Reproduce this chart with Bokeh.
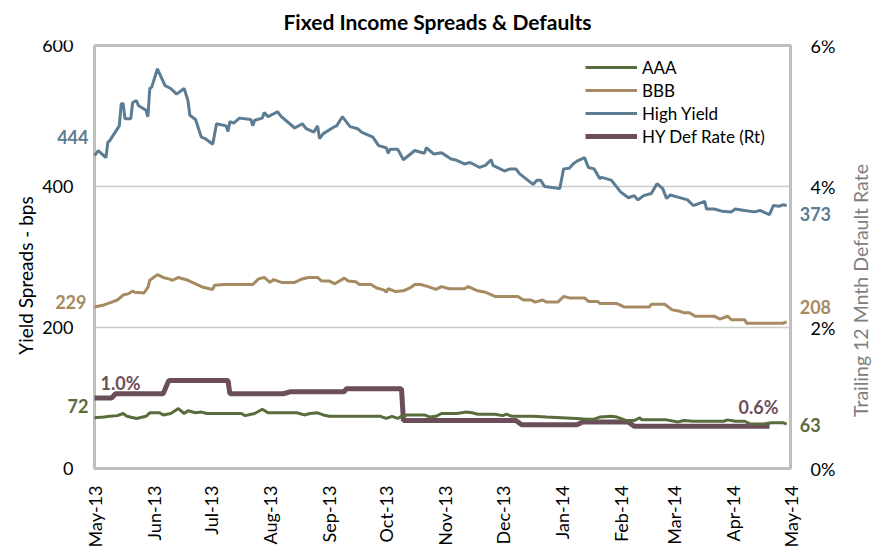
from math import pi
from bokeh.plotting import figure
from bokeh.models import (Range1d, LinearAxis, FixedTicker, PrintfTickFormatter,
                          Label, Legend, LegendItem)
from bokeh.embed import file_html
from bokeh.resources import INLINE

FONT = "Lato"

# ---------------- data (days since 1 May 2013) ----------------
month_days = [0, 31, 61, 92, 123, 153, 184, 214, 245, 276, 304, 335, 365]
month_labels = ["May-13", "Jun-13", "Jul-13", "Aug-13", "Sep-13", "Oct-13", "Nov-13",
                "Dec-13", "Jan-14", "Feb-14", "Mar-14", "Apr-14", "May-14"]

hy_days = [0, 2, 6, 7, 8, 13, 14, 15, 16, 19, 20, 22, 23, 27, 28, 29, 30, 33, 37, 40, 43, 47,
           49, 50, 53, 56, 58, 62, 64, 69, 70, 71, 73, 76, 82, 83, 84, 88, 89, 91, 96, 98, 105,
           109, 111, 115, 117, 118, 120, 126, 127, 130, 134, 138, 140, 146, 149, 153, 154, 155,
           159, 162, 168, 173, 174, 178, 182, 187, 189, 194, 197, 202, 205, 208, 209, 215, 218,
           221, 223, 230, 232, 234, 236, 239, 244, 246, 249, 251, 253, 257, 259, 262, 265, 266,
           271, 276, 280, 283, 285, 288, 292, 295, 298, 300, 302, 306, 311, 314, 320, 321, 325,
           329, 334, 336, 341, 346, 349, 354, 356, 359, 361, 363]
hy_vals = [444, 451, 441, 463, 465, 486, 517, 518, 496, 496, 519, 522, 515, 508, 499, 539, 541,
           567, 543, 539, 531, 539, 522, 501, 495, 470, 468, 460, 489, 486, 478, 492, 490, 497,
           495, 486, 494, 497, 505, 499, 506, 499, 483, 489, 482, 477, 486, 468, 475, 485, 486,
           499, 485, 482, 477, 470, 458, 455, 447, 453, 453, 438, 451, 447, 455, 446, 448, 439,
           438, 432, 434, 427, 430, 438, 430, 422, 425, 425, 418, 403, 409, 409, 400, 399, 397,
           425, 426, 432, 436, 441, 427, 425, 411, 413, 409, 392, 384, 387, 381, 387, 390, 404,
           397, 383, 388, 385, 381, 373, 379, 368, 368, 365, 364, 368, 366, 364, 366, 360, 373,
           372, 374, 373]

bbb_days = [0, 5, 9, 12, 15, 18, 20, 21, 26, 28, 29, 33, 36, 39, 41, 44, 49, 53, 57, 62, 63, 68,
            83, 86, 89, 92, 94, 98, 105, 108, 112, 117, 119, 123, 126, 131, 133, 137, 139, 145,
            148, 152, 153, 154, 158, 162, 166, 168, 171, 175, 179, 182, 186, 194, 196, 201, 205,
            210, 222, 225, 229, 231, 235, 237, 243, 246, 249, 257, 259, 264, 265, 274, 278, 291,
            292, 299, 303, 307, 309, 312, 315, 325, 328, 332, 334, 341, 342, 361, 363]
bbb_vals = [229, 232, 236, 239, 246, 248, 252, 250, 249, 257, 267, 275, 271, 269, 267, 271, 267,
            262, 257, 254, 260, 261, 261, 269, 271, 264, 268, 264, 264, 268, 271, 271, 266, 266,
            262, 270, 266, 265, 261, 261, 256, 253, 250, 255, 251, 252, 257, 261, 261, 258, 254,
            258, 255, 255, 258, 252, 250, 244, 244, 239, 239, 236, 239, 236, 236, 244, 242, 242,
            237, 237, 234, 234, 229, 229, 233, 233, 225, 223, 221, 221, 216, 216, 212, 216, 211,
            211, 206, 206, 208]

aaa_days = [0, 5, 8, 12, 15, 17, 22, 27, 29, 34, 36, 40, 44, 47, 49, 53, 56, 59, 77, 79, 84, 88,
            91, 106, 110, 113, 117, 120, 123, 150, 153, 156, 159, 161, 164, 173, 176, 179, 182,
            190, 195, 198, 201, 210, 214, 216, 219, 230, 237, 253, 258, 262, 265, 271, 274, 279,
            283, 286, 287, 300, 306, 309, 314, 330, 332, 336, 341, 344, 351, 355, 361, 363]
aaa_vals = [72, 73, 74, 75, 78, 74, 71, 74, 79, 79, 76, 78, 85, 78, 82, 79, 80, 78, 78, 75, 78,
            84, 79, 79, 76, 78, 79, 76, 74, 74, 71, 74, 71, 74, 76, 76, 73, 74, 78, 78, 80, 79,
            77, 77, 75, 77, 74, 74, 73, 71, 70, 70, 73, 74, 73, 68, 68, 72, 69, 69, 66, 68, 67,
            67, 69, 67, 67, 63, 63, 65, 65, 63]

def_days = [0, 9, 11, 36, 39, 70, 71, 99, 103, 131, 132, 161, 162, 221, 224, 253, 256, 280,
            283, 354]
def_vals = [1.0, 1.0, 1.06, 1.06, 1.25, 1.25, 1.06, 1.06, 1.09, 1.09, 1.13, 1.13, 0.68, 0.68,
            0.62, 0.62, 0.66, 0.66, 0.60, 0.60]

left_ticks = [0, 200, 400, 600]
right_ticks = [0, 2, 4, 6]

C_AAA = "#5a6b3c"
C_BBB = "#a68a62"
C_HY = "#5b7c93"
C_DEF = "#6b4e59"
C_FRAME = "#bfbfbf"

# ---------------- layout (pixels) ----------------
W, H = 892, 554
TOP = 40                          # height of the title band above the frame
BOX_L, BOX_R, BOX_T, BOX_B = 94, 790, 45, 468   # visible plot box

xs = (BOX_R - BOX_L) / (month_days[-1] - month_days[0])
ys = (BOX_B - BOX_T) / (left_ticks[-1] - left_ticks[0])
rs = (BOX_B - BOX_T) / (right_ticks[-1] - right_ticks[0])
x_rng = Range1d(month_days[0] - BOX_L / xs, month_days[-1] + (W - BOX_R) / xs)
y_rng = Range1d(left_ticks[0] - (H - BOX_B) / ys, left_ticks[-1] + (BOX_T - TOP) / ys)
r_rng = Range1d(right_ticks[0] - (H - BOX_B) / rs, right_ticks[-1] + (BOX_T - TOP) / rs)

p = figure(width=W, height=H, output_backend="svg", toolbar_location=None,
           x_range=x_rng, y_range=y_rng,
           min_border_left=0, min_border_right=0, min_border_top=TOP, min_border_bottom=0,
           title="Fixed Income Spreads & Defaults")
p.title.align = "left"
p.title.offset = 283
p.title.text_font = FONT
p.title.text_font_size = "21px"
p.title.text_font_style = "bold"
p.title.text_color = "#000000"
p.title.standoff = 13

p.outline_line_color = None
p.background_fill_color = "white"
p.border_fill_color = "white"
p.xgrid.grid_line_color = None
p.ygrid.grid_line_color = None

p.extra_y_ranges = {"def": r_rng}

# x axis (pinned to the bottom of the box)
xa = p.xaxis[0]
xa.fixed_location = left_ticks[0]
xa.ticker = FixedTicker(ticks=month_days)
xa.major_label_overrides = {d: l for d, l in zip(month_days, month_labels)}
xa.major_label_orientation = pi / 2
xa.major_label_standoff = 17

# left axis (pinned to the left side of the box)
ya = p.yaxis[0]
ya.fixed_location = month_days[0]
ya.ticker = FixedTicker(ticks=left_ticks)
ya.major_label_standoff = 21

# right axis (default rate, pinned to the right side of the box)
ra = LinearAxis(y_range_name="def", ticker=FixedTicker(ticks=right_ticks),
                formatter=PrintfTickFormatter(format="%d%%"),
                fixed_location=month_days[-1])
ra.major_label_standoff = 20
p.add_layout(ra, "right")

for ax in (xa, ya, ra):
    ax.axis_line_color = None
    ax.major_tick_line_color = None
    ax.minor_tick_line_color = None
    ax.major_tick_out = 0
    ax.major_tick_in = 0
    ax.minor_tick_out = 0
    ax.minor_tick_in = 0
    ax.major_label_text_font = FONT
    ax.major_label_text_font_size = "18px"
    ax.major_label_text_color = "#000000"

# gridlines and box
grid_vals = left_ticks[1:-1]
p.segment(x0=[month_days[0]] * len(grid_vals), x1=[month_days[-1]] * len(grid_vals),
          y0=grid_vals, y1=grid_vals, line_color="#cccccc", line_width=1.5)
p.quad(left=[month_days[0]], right=[month_days[-1]], bottom=[left_ticks[0]],
       top=[left_ticks[-1]], fill_color=None, line_color=C_FRAME, line_width=3)

# ---------------- lines ----------------
r_def = p.line(def_days, def_vals, y_range_name="def", line_color=C_DEF, line_width=5)
r_aaa = p.line(aaa_days, aaa_vals, line_color=C_AAA, line_width=3)
r_bbb = p.line(bbb_days, bbb_vals, line_color=C_BBB, line_width=3)
r_hy = p.line(hy_days, hy_vals, line_color=C_HY, line_width=3)

legend = Legend(items=[LegendItem(label="AAA", renderers=[r_aaa]),
                       LegendItem(label="BBB", renderers=[r_bbb]),
                       LegendItem(label="High Yield", renderers=[r_hy]),
                       LegendItem(label="HY Def Rate (Rt)", renderers=[r_def])],
                location=(585, 407))
legend.background_fill_alpha = 0
legend.border_line_color = None
legend.padding = 0
legend.margin = 0
legend.spacing = 1
legend.glyph_height = 22
legend.label_height = 22
legend.glyph_width = 52
legend.label_standoff = 5
legend.label_text_font = FONT
legend.label_text_font_size = "17px"
legend.label_text_color = "#000000"
p.add_layout(legend)

# ---------------- data labels ----------------
def dlabel(x, y, text, color, align, xo, yo, rng="default"):
    p.add_layout(Label(x=x, y=y, text=text, text_color=color, text_align=align,
                       text_baseline="middle", x_offset=xo, y_offset=yo,
                       y_range_name=rng, text_font=FONT, text_font_size="18px",
                       text_font_style="bold"))

dlabel(hy_days[0], hy_vals[0], str(hy_vals[0]), C_HY, "right", -6, 18)
dlabel(bbb_days[0], bbb_vals[0], str(bbb_vals[0]), C_BBB, "right", -8, 5)
dlabel(aaa_days[0], aaa_vals[0], str(aaa_vals[0]), C_AAA, "right", -6, 12)
dlabel(hy_days[-1], hy_vals[-1], str(hy_vals[-1]), C_HY, "left", 13, -8)
dlabel(bbb_days[-1], bbb_vals[-1], str(bbb_vals[-1]), C_BBB, "left", 13, 15)
dlabel(aaa_days[-1], aaa_vals[-1], str(aaa_vals[-1]), C_AAA, "left", 13, -1)
dlabel(def_days[0], def_vals[0], "%.1f%%" % def_vals[0], C_DEF, "left", 6, 15, "def")
dlabel(def_days[-1], def_vals[-1], "%.1f%%" % def_vals[-1], C_DEF, "right", 9, 19, "def")

# axis titles (screen units measured from the frame's bottom-left corner)
p.add_layout(Label(x=25, y=H - 275, x_units="screen", y_units="screen",
                   text="Yield Spreads - bps", angle=pi / 2, text_align="center",
                   text_baseline="middle", text_font=FONT, text_font_size="19px",
                   text_color="#000000"))
p.add_layout(Label(x=860, y=H - 290, x_units="screen", y_units="screen",
                   text="Trailing 12 Mnth Default Rate", angle=pi / 2, text_align="center",
                   text_baseline="middle", text_font=FONT, text_font_size="19.5px",
                   text_color="#808080"))

open("out.html", "w").write(file_html(p, INLINE))
